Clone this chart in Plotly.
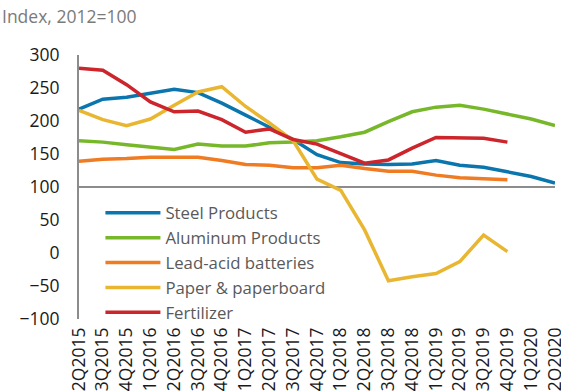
import plotly.graph_objects as go

quarters = ["2Q2015","3Q2015","4Q2015","1Q2016","2Q2016","3Q2016","4Q2016","1Q2017",
            "2Q2017","3Q2017","4Q2017","1Q2018","2Q2018","3Q2018","4Q2018","1Q2019",
            "2Q2019","3Q2019","4Q2019","1Q2020","2Q2020"]

steel = [218, 233, 236, 242, 248, 243, 227, 209, 190, 172, 149, 137, 135, 134, 135, 140,
         133, 130, 123, 116, 106]
aluminum = [170, 168, 164, 160, 157, 165, 162, 162, 167, 168, 170, 176, 183, 199, 214, 221,
            224, 218, 211, 203, 193]
lead_acid = [139, 142, 143, 145, 145, 145, 140, 134, 133, 129, 129, 133, 128, 124, 124, 118,
             114, 113, 111]
paper = [216, 202, 193, 203, 224, 244, 252, 222, 197, 170, 112, 95, 35, -42, -36, -31,
         -13, 27, 2]
fertilizer = [280, 277, 255, 229, 214, 215, 202, 183, 188, 172, 165, 151, 136, 141, 159, 175,
              174, 174, 168]

series = [
    ("Steel Products", steel, "#0b76ae"),
    ("Aluminum Products", aluminum, "#77b82a"),
    ("Lead-acid batteries", lead_acid, "#ef7b23"),
    ("Paper & paperboard", paper, "#e9b631"),
    ("Fertilizer", fertilizer, "#cc252b"),
]

y_ticks = [-100, -50, 0, 50, 100, 150, 200, 250, 300]

FS = 17.5
LEG_FS = 16.8

fig = go.Figure()
for i, (name, vals, color) in enumerate(series):
    fig.add_trace(go.Scatter(
        x=quarters[:len(vals)], y=vals, name=name, mode="lines",
        line=dict(color=color, width=3.5)))

fig.add_shape(type="line", xref="paper", yref="y", x0=0, x1=1, y0=100, y1=100,
              line=dict(color="#8c8c8c", width=2), layer="below")

fig.add_annotation(text="Index, 2012=100", xref="paper", yref="paper",
                   x=-79/476, y=1 + 39/264, xanchor="left", yanchor="middle",
                   showarrow=False, font=dict(size=FS, color="#7a7a7a", family="Open Sans"))

fig.update_layout(
    width=561, height=391,
    margin=dict(l=79, r=6, t=55, b=72, autoexpand=False),
    paper_bgcolor="white", plot_bgcolor="white",
    font=dict(family="Open Sans", size=FS, color="#1a1a1a"),
    showlegend=True,
    legend=dict(x=0.045, y=0.468, xanchor="left", yanchor="top",
                bgcolor="rgba(0,0,0,0)", font=dict(size=LEG_FS, color="#595959"),
                itemwidth=55, traceorder="normal"),
    xaxis=dict(type="category", categoryorder="array", categoryarray=quarters,
               range=[0, 20], showgrid=False, zeroline=False, showline=False,
               automargin=False, ticklabelstandoff=4,
               tickangle=-90, ticks="", tickfont=dict(size=FS, color="#1a1a1a")),
    yaxis=dict(range=[-100, 300], tickvals=y_ticks, showgrid=False, zeroline=False,
               showline=True, linecolor="#8c8c8c", linewidth=2, ticks="",
               automargin=False,
               ticklabelstandoff=14, tickfont=dict(size=FS, color="#1a1a1a")),
)

fig.write_html("out.html")
